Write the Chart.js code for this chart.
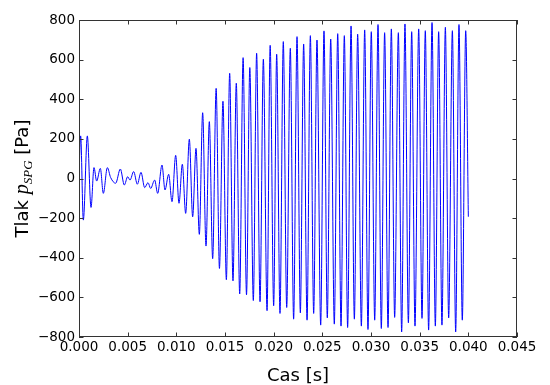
<!DOCTYPE html>
<html>
<head>
<meta charset="utf-8">
<script src="https://cdn.jsdelivr.net/npm/chart.js@4.4.1/dist/chart.umd.min.js"></script>
<style>
    html, body { margin: 0; padding: 0; background: #fff; }
    #wrap { width: 550px; height: 385px; }
</style>
</head>
<body>
<div id="wrap"><canvas id="chart"></canvas></div>
<script>
// extrema: time [s] and pressure [Pa]
const timeS = [
    0.000000, 0.000171, 0.000445, 0.000856, 0.001233, 0.001541, 0.001815, 0.002192,
    0.002500, 0.002911, 0.003250, 0.003767, 0.004247, 0.004658, 0.005000, 0.005240,
    0.005616, 0.005993, 0.006370, 0.006747, 0.007089, 0.007363, 0.007774, 0.008082,
    0.008527, 0.008836, 0.009212, 0.009555, 0.009932, 0.010274, 0.010616, 0.010959,
    0.011336, 0.011678, 0.012021, 0.012363, 0.012705, 0.013048, 0.013390, 0.013733,
    0.01409, 0.01443, 0.01479, 0.01514, 0.01548, 0.01582, 0.01616, 0.01651,
    0.01686, 0.01721, 0.01755, 0.01791, 0.01825, 0.01860, 0.01894, 0.01932,
    0.01964, 0.02000, 0.02031, 0.02065, 0.02099, 0.02134, 0.02171, 0.02205,
    0.02240, 0.02274, 0.02308, 0.02343, 0.02377, 0.02411, 0.02445, 0.02483,
    0.02517, 0.02551, 0.02586, 0.02623, 0.02658, 0.02692, 0.02726, 0.02760,
    0.02795, 0.02829, 0.02863, 0.02901, 0.02935, 0.02969, 0.03003, 0.03038,
    0.03072, 0.03106, 0.03140, 0.03175, 0.03209, 0.03243, 0.03281, 0.03315,
    0.03349, 0.03384, 0.03418, 0.03452, 0.03490, 0.03524, 0.03558, 0.03592,
    0.03627, 0.03661, 0.03695, 0.03729, 0.03764, 0.03798, 0.03836, 0.03870,
    0.03904, 0.03938, 0.03973, 0.04000
];
const pressurePa = [
    20, 215, -210, 215, -146, 55, -13, 51,
    -75, 55, 5, -24, 48, -33, 9, -8,
    35, -29, 31, -46, -21, -50, -8, -75,
    68, -58, 21, -117, 117, -125, 72, -176,
    198, -193, 152, -282, 332, -341, 287, -405,
    455, -454, 390, -511, 531, -517, 481, -583,
    610, -587, 560, -616, 632, -622, 602, -667,
    672, -642, 627, -681, 691, -651, 657, -710,
    716, -678, 679, -715, 721, -681, 699, -740,
    745, -703, 704, -735, 731, -745, 721, -752,
    770, -710, 728, -745, 750, -762, 741, -715,
    777, -757, 736, -752, 755, -701, 736, -774,
    780, -728, 741, -745, 755, -706, 746, -765,
    787, -745, 741, -740, 763, -703, 746, -774,
    777, -715, 746, -193
];
const xTickValues = [0, 0.005, 0.010, 0.015, 0.020, 0.025, 0.030, 0.035, 0.040, 0.045];
const yTickValues = [-800, -600, -400, -200, 0, 200, 400, 600, 800];

Chart.defaults.font.family = "'DejaVu Sans', sans-serif";
Chart.defaults.color = '#000';

/**
 * Frame box with inward ticks on all four sides, matplotlib style.
 */
const frameTicks = {
    id: 'frameTicks',
    afterDraw(chart) {
        const { ctx, chartArea: a, scales: { x, y } } = chart;
        const len = 4.5;
        ctx.save();
        ctx.strokeStyle = '#333';
        ctx.lineWidth = 1;
        ctx.beginPath();
        x.ticks.forEach(t => {
            const px = Math.round(x.getPixelForValue(t.value)) + 0.5;
            ctx.moveTo(px, a.bottom); ctx.lineTo(px, a.bottom - len);
            ctx.moveTo(px, a.top); ctx.lineTo(px, a.top + len);
        });
        y.ticks.forEach(t => {
            const py = Math.round(y.getPixelForValue(t.value)) + 0.5;
            ctx.moveTo(a.left, py); ctx.lineTo(a.left + len, py);
            ctx.moveTo(a.right, py); ctx.lineTo(a.right - len, py);
        });
        ctx.stroke();
        ctx.strokeRect(Math.round(a.left) + 0.5, Math.round(a.top) + 0.5,
            Math.round(a.width) - 1, Math.round(a.height) - 1);
        ctx.restore();
    }
};

/**
 * Y axis title with the italic subscripted symbol.
 */
const yTitle = {
    id: 'yTitle',
    afterDraw(chart) {
        const { ctx, chartArea: a } = chart;
        const parts = [
            { text: 'Tlak ', font: "18px 'DejaVu Sans'", dy: 0 },
            { text: 'p', font: "italic 20px 'Liberation Serif'", dy: 0 },
            { text: 'SPG', font: "italic 13px 'Liberation Serif'", dy: 4 },
            { text: ' [Pa]', font: "18px 'DejaVu Sans'", dy: 0 }
        ];
        ctx.save();
        let total = 0;
        parts.forEach(p => { ctx.font = p.font; p.w = ctx.measureText(p.text).width; total += p.w; });
        ctx.translate(28, (a.top + a.bottom) / 2);
        ctx.rotate(-Math.PI / 2);
        ctx.fillStyle = '#000';
        ctx.textBaseline = 'alphabetic';
        let cx = -total / 2;
        parts.forEach(p => {
            ctx.font = p.font;
            ctx.fillText(p.text, cx, p.dy);
            cx += p.w;
        });
        ctx.restore();
    }
};

new Chart(document.getElementById('chart'), {
    type: 'line',
    data: {
        datasets: [{
            data: timeS.map((t, i) => ({ x: t, y: pressurePa[i] })),
            borderColor: '#0000ff',
            borderWidth: 1,
            pointRadius: 0,
            fill: false,
            cubicInterpolationMode: 'monotone'
        }]
    },
    options: {
        responsive: true,
        maintainAspectRatio: false,
        animation: false,
        events: [],
        layout: { padding: { left: 0, top: 20, right: 33, bottom: 0 } },
        plugins: { legend: { display: false }, tooltip: { enabled: false } },
        scales: {
            x: {
                type: 'linear',
                min: 0,
                max: 0.045,
                grid: { display: false, drawTicks: false },
                border: { display: false },
                afterBuildTicks: s => { s.ticks = xTickValues.map(v => ({ value: v })); },
                afterFit: s => { s.height = 48; },
                ticks: {
                    padding: 2,
                    maxRotation: 0,
                    autoSkip: false,
                    font: { size: 13.5 },
                    callback: v => v.toFixed(3)
                },
                title: {
                    display: true,
                    text: 'Cas [s]',
                    font: { size: 18, lineHeight: 1 },
                    padding: { top: 0, bottom: 0 }
                }
            },
            y: {
                min: -800,
                max: 800,
                grid: { display: false, drawTicks: false },
                border: { display: false },
                afterBuildTicks: s => { s.ticks = yTickValues.map(v => ({ value: v })); },
                afterFit: s => { s.width = 79; },
                ticks: {
                    padding: 4,
                    autoSkip: false,
                    font: { size: 13.5 },
                    callback: v => String(v).replace('-', '\u2212')
                }
            }
        }
    },
    plugins: [frameTicks, yTitle]
});
</script>
</body>
</html>
